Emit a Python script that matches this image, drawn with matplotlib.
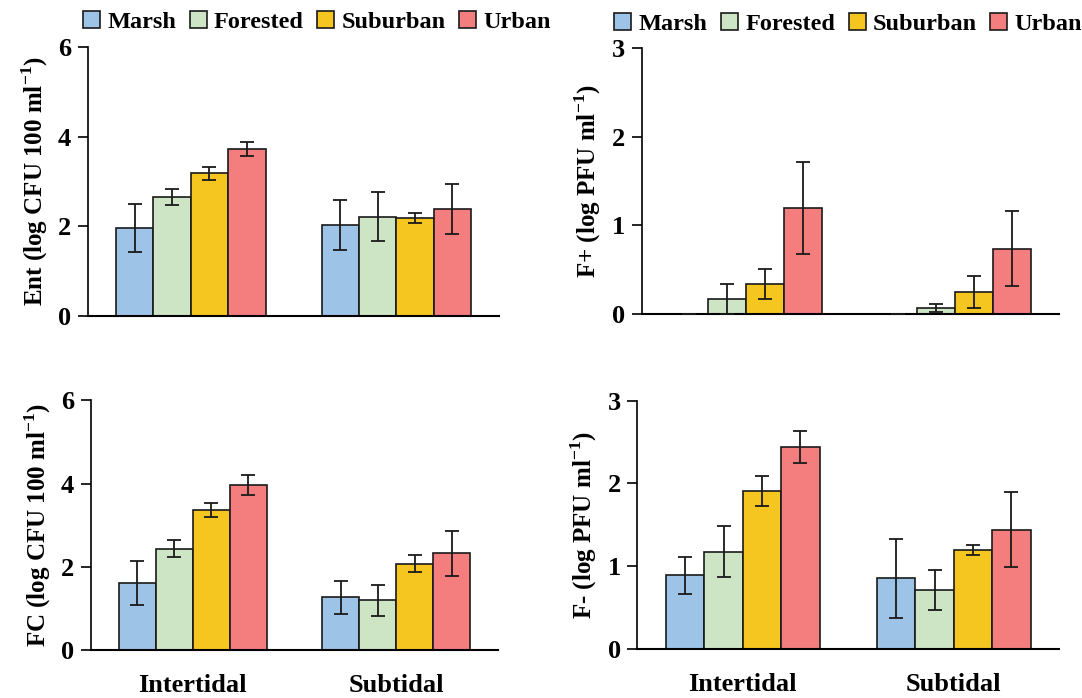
import numpy as np
import matplotlib
matplotlib.use('Agg')
import matplotlib.pyplot as plt
from matplotlib.patches import Patch

plt.rcParams['font.family'] = ['Liberation Serif', 'DejaVu Serif']
plt.rcParams['font.weight'] = 'bold'
plt.rcParams['mathtext.fontset'] = 'custom'
plt.rcParams['mathtext.rm'] = 'Liberation Serif:bold'
plt.rcParams['mathtext.bf'] = 'Liberation Serif:bold'

sites = ['Intertidal', 'Subtidal']
land_use = ['Marsh', 'Forested', 'Suburban', 'Urban']
colors = ['#9DC3E6', '#CDE5C5', '#F5C520', '#F47E7E']

# values per land use: [Intertidal, Subtidal]
ent_mean = [[1.96, 2.03], [2.65, 2.22], [3.18, 2.18], [3.73, 2.38]]
ent_err = [[0.53, 0.56], [0.18, 0.54], [0.15, 0.11], [0.16, 0.56]]

fplus_mean = [[0.0, 0.0], [0.17, 0.07], [0.335, 0.25], [1.20, 0.74]]
fplus_err = [[0.0, 0.0], [0.17, 0.045], [0.17, 0.18], [0.52, 0.42]]

fc_mean = [[1.625, 1.27], [2.44, 1.20], [3.37, 2.08], [3.97, 2.33]]
fc_err = [[0.53, 0.39], [0.21, 0.37], [0.16, 0.21], [0.23, 0.54]]

fminus_mean = [[0.89, 0.854], [1.175, 0.712], [1.91, 1.19], [2.44, 1.44]]
fminus_err = [[0.22, 0.48], [0.31, 0.24], [0.18, 0.06], [0.19, 0.45]]

fig = plt.figure(figsize=(10.82, 6.98), dpi=100)

panels = [
    # rect, means, errs, ymax, ylabel, show x labels, legend centre
    ([0.0813, 0.547, 0.380, 0.386], ent_mean, ent_err, 6,
     r'Ent (log CFU 100 ml$^{-1}$)', False, (0.293, 0.968)),
    ([0.593, 0.550, 0.386, 0.381], fplus_mean, fplus_err, 3,
     r'F+ (log PFU ml$^{-1}$)', False, (0.784, 0.965)),
    ([0.0841, 0.0683, 0.376, 0.358], fc_mean, fc_err, 6,
     r'FC (log CFU 100 ml$^{-1}$)', True, None),
    ([0.589, 0.0702, 0.390, 0.356], fminus_mean, fminus_err, 3,
     r'F- (log PFU ml$^{-1}$)', True, None),
]

handles = [Patch(facecolor=c, edgecolor='#1a1a1a', linewidth=1.2, label=n)
           for c, n in zip(colors, land_use)]

x = np.arange(len(sites))
w = 0.182
for rect, means, errs, ymax, ylab, show_x, leg_at in panels:
    ax = fig.add_axes(rect)
    for i, name in enumerate(land_use):
        pos = x + (i - 1.5) * w
        lw = [0 if v == 0 else 1.2 for v in means[i]]
        ax.bar(pos, means[i], w, color=colors[i], edgecolor='#1a1a1a',
               linewidth=lw, zorder=2)
        ax.errorbar(pos, means[i], yerr=errs[i], fmt='none', ecolor='#1a1a1a',
                    elinewidth=1.3, capsize=4.8, capthick=1.3, zorder=3)
    ax.set_xlim(-0.5, 1.5)
    ax.set_ylim(0, ymax)
    if ymax == 6:
        ax.set_yticks([0, 2, 4, 6])
    else:
        ax.set_yticks([0, 1, 2, 3])
    ax.spines['top'].set_visible(False)
    ax.spines['right'].set_visible(False)
    ax.spines['left'].set_linewidth(1.2)
    ax.spines['bottom'].set_linewidth(1.5)
    ax.tick_params(axis='y', length=7, width=1.2, labelsize=19, pad=5)
    ax.tick_params(axis='x', length=0, labelsize=19, pad=17)
    ax.set_xticks(x)
    if show_x:
        ax.set_xticklabels(sites, fontweight='bold')
    else:
        ax.set_xticklabels([])
    for t in ax.get_yticklabels():
        t.set_fontweight('bold')
    ax.set_ylabel(ylab, fontsize=18, fontweight='bold', labelpad=6)
    if leg_at is not None:
        fig.legend(handles=handles, loc='center', bbox_to_anchor=leg_at,
                   ncol=4, frameon=False, fontsize=17.5, handlelength=0.7,
                   handleheight=0.7, handletextpad=0.3, columnspacing=0.55,
                   borderaxespad=0, borderpad=0)

fig.savefig('out.png', dpi=100)
